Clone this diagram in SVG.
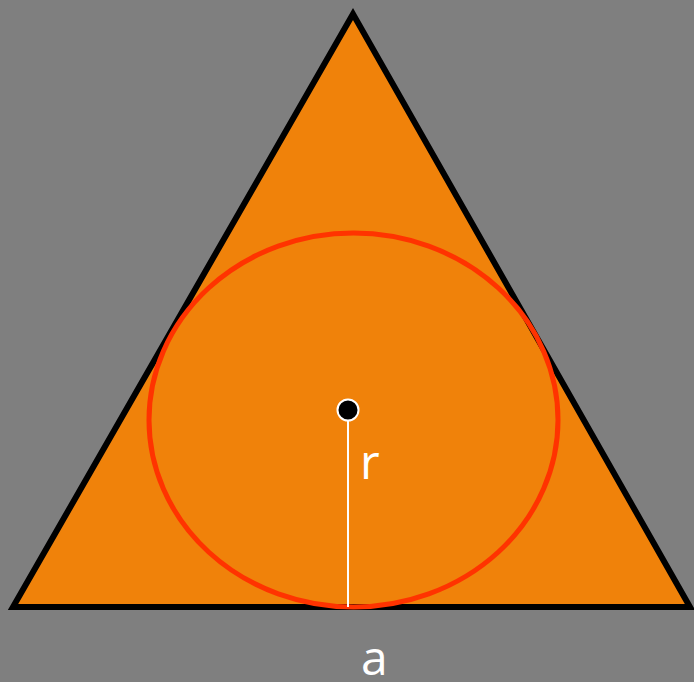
<svg xmlns="http://www.w3.org/2000/svg" width="694" height="682" viewBox="0 0 694 682">
<style>
.lbl{font-family:"Open Sans","Liberation Sans",sans-serif;font-size:48px;fill:#ffffff;}
</style>
<rect width="694" height="682" fill="#7f7f7f"/>
<g id="triangle">
<polygon points="353,14 13,607 690,607" fill="#f0820a" stroke="#000" stroke-width="6" stroke-linejoin="miter"/>
</g>
<g id="incircle">
<ellipse cx="353.5" cy="420" rx="204.5" ry="187" fill="none" stroke="#ff3300" stroke-width="5"/>
</g>
<g id="connectors">
<line x1="348" y1="410" x2="348" y2="607" stroke="#fff" stroke-width="2"/>
</g>
<g id="center">
<circle cx="348" cy="410" r="10.5" fill="#000" stroke="#fff" stroke-width="2"/>
</g>
<g id="labels">
<text class="lbl" x="361" y="675">a</text>
<text class="lbl" x="360" y="479">r</text>
</g>
</svg>
